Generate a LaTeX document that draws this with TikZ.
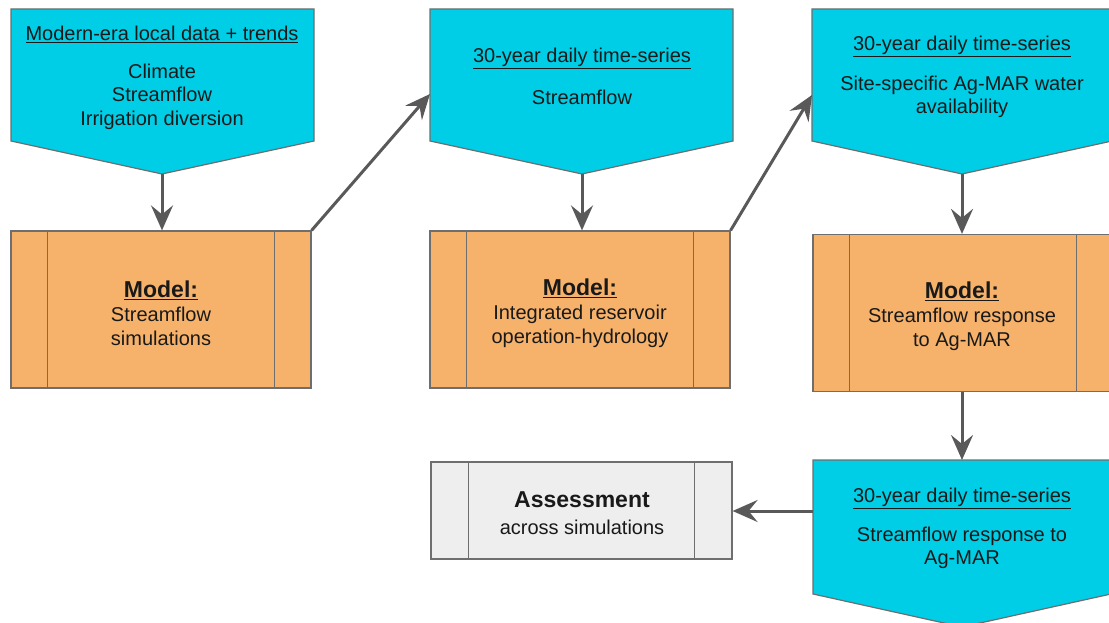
\documentclass[tikz,border=0pt]{standalone}
\usepackage{fontspec}
\setmainfont{Liberation Sans}
\usetikzlibrary{arrows.meta,calc}
\definecolor{cyanfill}{RGB}{0,206,230}
\definecolor{orangefill}{RGB}{246,178,107}
\definecolor{greyfill}{RGB}{238,238,238}
\definecolor{edgegrey}{RGB}{110,110,110}
\definecolor{arrowgrey}{RGB}{89,89,89}
\definecolor{textdark}{RGB}{25,25,25}
\tikzset{
  datashape/.style={fill=cyanfill, draw=edgegrey, line width=1.2pt, line join=miter},
  procbox/.style={rectangle, draw=edgegrey, line width=1.2pt, inner sep=0pt},
  modelbox/.style={procbox, fill=orangefill, minimum width=300pt, minimum height=157pt},
  assessbox/.style={procbox, fill=greyfill, minimum width=301pt, minimum height=97pt},
  bodytext/.style={align=center, inner sep=0pt, text=textdark, font=\fontsize{20}{23.5}\selectfont},
  headtext/.style={align=center, inner sep=0pt, text=textdark, font=\fontsize{23}{26}\selectfont\bfseries},
  flow/.style={draw=arrowgrey, line width=3pt, -{Stealth[length=25pt, width=22pt, inset=9pt]}}
}
\newcommand{\sidebars}[2]{%
  \draw[edgegrey, line width=1.2pt] ($(#1.north west)+(#2,0)$) -- ($(#1.south west)+(#2,0)$);
  \draw[edgegrey, line width=1.2pt] ($(#1.north east)+(-#2,0)$) -- ($(#1.south east)+(-#2,0)$);
}
\begin{document}
\begin{tikzpicture}[x=1pt, y=-1pt]
\useasboundingbox (0,0) rectangle (1109,623);
\clip (0,0) rectangle (1109,623);

% data shapes (pentagons pointing down)
\draw[datashape] (11,9) -- (314,9) -- (314,141) -- (162,174) -- (11,141) -- cycle;
\coordinate (c1tip) at (162,174);
\draw[datashape] (430,9) -- (733,9) -- (733,141) -- (582,174) -- (430,141) -- cycle;
\coordinate (c2tip) at (582,174);
\coordinate (c2left) at (430,94);
\draw[datashape] (812,9) -- (1112,9) -- (1112,141) -- (962,174) -- (812,141) -- cycle;
\coordinate (c3tip) at (962,174);
\coordinate (c3left) at (812,95);
\draw[datashape] (813,460) -- (1111,460) -- (1111,594) -- (962,627) -- (813,594) -- cycle;
\coordinate (c4top) at (962,460);
\coordinate (c4left) at (813,511);

% model boxes
\node[modelbox] (m1) at (161,309.5) {};
\sidebars{m1}{37}
\node[modelbox] (m2) at (580,309.5) {};
\sidebars{m2}{37}
\node[modelbox] (m3) at (963,313) {};
\sidebars{m3}{37}
\node[assessbox] (as) at (581.5,510.5) {};
\sidebars{as}{38}

% texts
\node[bodytext] (t1h) at (162,34.5) {\underline{Modern-era local data + trends}};
\node[bodytext] (t1b) at (162,96.5) {Climate\\Streamflow\\Irrigation diversion};
\node[bodytext] (t2h) at (582,58.5) {\underline{30-year daily time-series}};
\node[bodytext] (t2b) at (582,97) {Streamflow};
\node[bodytext] (t3h) at (962,46.5) {\underline{30-year daily time-series}};
\node[bodytext] (t3b) at (962,97) {Site-specific Ag-MAR water\\availability};
\node[bodytext] (t4h) at (962,498.5) {\underline{30-year daily time-series}};
\node[bodytext] (t4b) at (962,548) {Streamflow response to\\Ag-MAR};

\node[headtext] (m1h) at (161,290) {\underline{Model:}};
\node[bodytext] (m1b) at (161,326.5) {Streamflow\\simulations};
\node[headtext] (m2h) at (580,288) {\underline{Model:}};
\node[bodytext] (m2b) at (580,326.5) {Integrated reservoir\\operation-hydrology};
\node[headtext] (m3h) at (962,291) {\underline{Model:}};
\node[bodytext] (m3b) at (962,329.5) {Streamflow response\\to Ag-MAR};
\node[headtext] (ash) at (582,500) {Assessment};
\node[bodytext] (asb) at (582,527) {across simulations};

% connectors
\draw[flow] (c1tip) -- (c1tip |- m1.north);
\draw[flow] (m1.north east) -- (c2left);
\draw[flow] (c2tip) -- (c2tip |- m2.north);
\draw[flow] (m2.north east) -- (c3left);
\draw[flow] (c3tip) -- (c3tip |- m3.north);
\draw[flow] (c3tip |- m3.south) -- (c4top);
\draw[flow] (c4left) -- (c4left -| as.east);
\end{tikzpicture}
\end{document}
